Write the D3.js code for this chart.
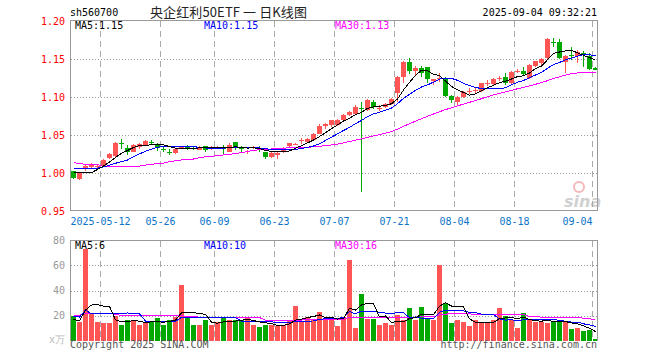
<!DOCTYPE html>
<html>
<head>
<meta charset="utf-8">
<script src="https://cdn.jsdelivr.net/npm/d3@7"></script>
<style>
  body { margin: 0; background: #fff; }
  svg text { font-family: "DejaVu Sans Mono", monospace; font-size: 10px; }
</style>
</head>
<body>
<div id="chart"></div>
<script>
// trading days, 2025-04-30 .. 2025-09-04
const dates = [
  "04-30","05-06","05-07","05-08","05-09","05-12","05-13","05-14","05-15","05-16",
  "05-19","05-20","05-21","05-22","05-23","05-26","05-27","05-28","05-29","05-30",
  "06-03","06-04","06-05","06-06","06-09","06-10","06-11","06-12","06-13","06-16",
  "06-17","06-18","06-19","06-20","06-23","06-24","06-25","06-26","06-27","06-30",
  "07-01","07-02","07-03","07-04","07-07","07-08","07-09","07-10","07-11","07-14",
  "07-15","07-16","07-17","07-18","07-21","07-22","07-23","07-24","07-25","07-28",
  "07-29","07-30","07-31","08-01","08-04","08-05","08-06","08-07","08-08","08-11",
  "08-12","08-13","08-14","08-15","08-18","08-19","08-20","08-21","08-22","08-25",
  "08-26","08-27","08-28","08-29","09-01","09-02","09-03","09-04"
];

const openP = [
  1.002,0.992,1.005,1.008,1.0085,1.0095,1.020,1.0224,1.039,1.0333,
  1.028,1.034,1.0365,1.041,1.037,1.031,1.028,1.0265,1.0318,1.034,
  1.033,1.0305,1.035,1.032,1.0333,1.033,1.028,1.0404,1.033,1.027,
  1.0335,1.0325,1.027,1.021,1.024,1.027,1.035,1.038,1.042,1.0412,
  1.0434,1.0518,1.0614,1.063,1.0632,1.0697,1.0763,1.0776,1.0855,1.0829,
  1.0938,1.0845,1.0864,1.0908,1.1049,1.1267,1.1457,1.1342,1.1377,1.139,
  1.1206,1.1245,1.1233,1.1013,1.0939,1.1004,1.1075,1.1088,1.1083,1.1185,
  1.1167,1.1242,1.1259,1.118,1.1338,1.1346,1.1246,1.1412,1.1443,1.1509,
  1.1725,1.1728,1.1457,1.1547,1.1544,1.158,1.1539,1.1386
];
const highP = [
  1.003,1.000,1.011,1.013,1.012,1.018,1.026,1.041,1.0447,1.037,
  1.038,1.039,1.0435,1.043,1.040,1.034,1.031,1.033,1.036,1.037,
  1.035,1.036,1.036,1.0357,1.036,1.0368,1.039,1.041,1.036,1.030,
  1.036,1.035,1.028,1.027,1.028,1.034,1.040,1.040,1.046,1.046,
  1.052,1.064,1.066,1.070,1.071,1.078,1.082,1.089,1.0938,1.098,
  1.096,1.089,1.092,1.099,1.128,1.148,1.1509,1.1408,1.1412,1.140,
  1.1241,1.1311,1.1268,1.102,1.101,1.108,1.1114,1.1136,1.119,1.122,
  1.125,1.128,1.131,1.134,1.137,1.139,1.143,1.148,1.151,1.1772,
  1.1772,1.1759,1.1555,1.1662,1.162,1.160,1.1583,1.139
];
const lowP = [
  0.992,0.9905,1.003,1.005,1.006,1.009,1.018,1.021,1.0316,1.024,
  1.027,1.032,1.035,1.038,1.029,1.028,1.024,1.025,1.031,1.030,
  1.030,1.030,1.028,1.0305,1.032,1.0237,1.027,1.030,1.028,1.025,
  1.032,1.027,1.018,1.020,1.0185,1.026,1.034,1.0365,1.038,1.040,
  1.042,1.051,1.058,1.061,1.062,1.068,1.075,1.076,0.9754,1.082,
  1.084,1.082,1.085,1.090,1.0938,1.1188,1.1303,1.1289,1.1268,1.118,
  1.1154,1.1202,1.1005,1.0917,1.0895,1.099,1.104,1.104,1.107,1.115,
  1.116,1.1207,1.1154,1.117,1.131,1.127,1.1237,1.140,1.1399,1.150,
  1.1662,1.150,1.1312,1.1487,1.145,1.140,1.136,1.135
];
const closeP = [
  0.994,0.9995,1.0096,1.011,1.009,1.017,1.025,1.040,1.038,1.028,
  1.0365,1.038,1.0425,1.040,1.0335,1.0305,1.0275,1.032,1.0348,1.033,
  1.032,1.0346,1.0307,1.0347,1.034,1.0325,1.0368,1.0333,1.0325,1.029,
  1.034,1.032,1.021,1.026,1.0268,1.0325,1.039,1.0386,1.043,1.045,
  1.051,1.0623,1.064,1.0697,1.0697,1.0763,1.0807,1.0872,1.0851,1.0961,
  1.0864,1.0851,1.0908,1.0974,1.1267,1.1465,1.1342,1.1377,1.1311,1.1233,
  1.1233,1.1254,1.1013,1.0961,1.1004,1.1066,1.1079,1.1092,1.118,1.1189,
  1.1237,1.1246,1.118,1.1333,1.1342,1.1298,1.1421,1.1474,1.15,1.1759,
  1.172,1.1509,1.1544,1.1544,1.1588,1.1555,1.1368,1.1355
];

const ma5 = [
  1.0004,1.0004,1.0004,1.0005,1.0046,1.0092,1.0143,1.0204,1.0258,1.0296,
  1.0335,1.0361,1.0366,1.037,1.0381,1.0369,1.0348,1.0327,1.0317,1.0316,
  1.0319,1.0333,1.033,1.033,1.0332,1.0333,1.0337,1.0343,1.0338,1.0328,
  1.0331,1.0322,1.0297,1.0284,1.028,1.0277,1.0291,1.0326,1.036,1.0396,
  1.0433,1.048,1.0531,1.0584,1.0633,1.0684,1.0721,1.0767,1.0798,1.0851,
  1.0871,1.088,1.0887,1.0912,1.0973,1.1093,1.1191,1.1285,1.1352,1.1346,
  1.1299,1.1282,1.1209,1.1139,1.1093,1.106,1.1025,1.104,1.1084,1.1121,
  1.1155,1.1189,1.1206,1.1237,1.1268,1.128,1.1315,1.1374,1.1407,1.149,
  1.1575,1.1592,1.1606,1.1615,1.1581,1.1548,1.152,1.1482
];
const ma10 = [
  1.0061,1.0061,1.0061,1.0062,1.0065,1.008,1.0103,1.0128,1.015,1.0171,
  1.0214,1.0252,1.0285,1.0314,1.0339,1.0352,1.0355,1.0347,1.0343,1.0348,
  1.0344,1.034,1.0329,1.0323,1.0324,1.0326,1.0335,1.0336,1.0334,1.033,
  1.0332,1.033,1.032,1.0311,1.0304,1.0304,1.0306,1.0311,1.0322,1.0338,
  1.0355,1.0385,1.0428,1.0472,1.0515,1.0559,1.06,1.0649,1.0691,1.0742,
  1.0778,1.08,1.0827,1.0855,1.0912,1.0982,1.1036,1.1086,1.1132,1.1159,
  1.1196,1.1236,1.1247,1.1246,1.1219,1.1179,1.1153,1.1125,1.1112,1.1107,
  1.1108,1.1107,1.1123,1.1161,1.1194,1.1218,1.1252,1.129,1.1322,1.1379,
  1.1427,1.1454,1.149,1.1511,1.1536,1.1561,1.1556,1.1544
];
const ma30 = [
  1.0136,1.0125,1.0114,1.0114,1.0114,1.0084,1.0084,1.0084,1.0084,1.0084,
  1.0084,1.009,1.0105,1.0115,1.0122,1.013,1.0149,1.016,1.0171,1.0178,
  1.0184,1.0203,1.0212,1.022,1.0228,1.0237,1.0246,1.0256,1.0268,1.0283,
  1.0297,1.0307,1.0311,1.0316,1.0322,1.0327,1.0332,1.0331,1.0333,1.0339,
  1.0344,1.0352,1.0359,1.0369,1.0381,1.0396,1.0414,1.0432,1.0449,1.047,
  1.0488,1.0505,1.0525,1.0546,1.0577,1.0615,1.0647,1.0682,1.0715,1.0746,
  1.0776,1.0807,1.0834,1.0857,1.0882,1.0907,1.093,1.0953,1.0978,1.1003,
  1.1027,1.1048,1.1066,1.1087,1.1109,1.1126,1.1147,1.1167,1.1189,1.1215,
  1.1244,1.1266,1.1287,1.1306,1.1316,1.1319,1.132,1.132
];

// volume, x万
const volume = [
  20,15,73,21,15,14,14,20,13,17,
  16,13,14,16,18,13,17,19,44.5,19,
  13,13,16.5,13,15,18,16.5,16.5,16.5,18.5,
  13,11,13,13,12,13,17,28,16,19,
  17,23,18,17,12,19,64,10.5,37.5,17.5,
  17.5,12.5,14,12.5,20.5,16.5,26,16.5,27,18,
  16.5,60,30,14,16.5,15,12,16.5,15,14,
  16.5,26,20,16.5,10,22,16.5,15,15,14,
  16,17,15,9.5,10,8,8.5,1.5
];
const vma5 = [
  17,16,24.5,28.5,28.8,27.6,27.4,16.8,15.2,15.6,
  16,15.8,14.6,15.2,15.4,14.8,15.6,16.6,22.3,22.5,
  22.5,21.7,21.2,14.9,14.1,15.1,15.8,15.8,16.5,17.2,
  16.2,15.1,14.4,13.7,12.4,12.4,13.6,16.6,17.2,18.6,
  19.4,20.6,18.6,18.8,17.4,17.8,26,24.5,28.6,29.7,
  29.4,19.1,19.8,14.8,15.4,15.2,17.9,18.4,21.3,20.8,
  20.8,27.6,30.3,27.7,27.4,27.1,17.5,14.8,15,14.5,
  14.8,17.6,18.3,18.6,17.8,18.9,17,16,15.7,16.5,
  15.3,15.4,15.4,14.3,13.5,11.9,10.2,7.5
];
const vma10 = [
  19.5,19,24.5,21.5,21.5,21.5,21.5,21.5,21.5,22.2,
  21.8,21.6,15.7,15.2,15.5,15.4,15.7,15.6,18.75,18.95,
  18.65,18.65,18.9,18.6,18.3,18.8,18.75,18.5,15.7,15.65,
  15.65,15.45,15.1,15.1,14.8,14.3,14.35,15.5,15.45,15.5,
  15.9,17.1,17.6,18,18,18.6,23.3,21.55,23.7,23.55,
  23.6,22.55,22.15,21.7,22.55,22.3,18.5,19.1,18.05,18.1,
  18,22.75,24.35,24.5,24.1,23.95,22.55,22.55,21.35,20.95,
  20.95,17.55,16.55,16.8,16.15,16.85,17.3,17.15,17.15,17.15,
  17.1,16.2,15.7,15,15,13.6,12.8,11.45
];
const vma30 = [
  20.3,20.3,22,21.8,21.8,21.8,21.8,21,20.3,20,
  20,20,20,20,20,20,20,20,20,19.4,
  19.4,18.9,18.9,18.9,18.9,18.9,18.9,18.9,18.9,18.93,
  18.7,18.57,16.57,16.3,16.2,16.17,16.27,16.53,16.63,16.7,
  16.73,17.07,17.2,17.23,17.03,17.23,18.8,18.52,18.28,18.23,
  18.38,18.37,18.28,18.27,18.45,18.4,18.72,18.72,19.07,19.05,
  19.17,20.8,21.37,21.4,21.55,21.62,21.45,21.07,21.03,20.87,
  20.85,20.95,21.02,21,20.93,21.03,19.45,19.6,18.85,18.73,
  18.68,18.83,18.87,18.77,18.42,18.13,17.55,17.05
];

const tickIdx    = [5, 15, 24, 34, 44, 54, 64, 74, 87];
const tickLabels = ["2025-05-12","05-26","06-09","06-23","07-07","07-21","08-04","08-18","09-04"];
const priceTicks = [0.95, 1.00, 1.05, 1.10, 1.15, 1.20];
const volTicks   = [20, 40, 60, 80];

const UP = "#ff5555", DOWN = "#00a800";
const GRID = "#aaaaaa";

const width = 660, height = 360;

const svg = d3.select("#chart")
  .append("svg")
  .attr("width", width)
  .attr("height", height)
  .style("display", "block");

// x(i) = left edge of slot i
const x = d3.scaleLinear().domain([0, dates.length]).range([70, 598]);
const cx = i => x(i) + 3.5;

const y  = d3.scaleLinear().domain([0.95, 1.20]).range([211, 21]);
const yv = d3.scaleLinear().domain([0, 80]).range([341, 240]);

// ---- header
svg.append("text").attr("x", 70).attr("y", 16).attr("fill", "#000").text("sh560700");
svg.append("text")
  .attr("x", 150).attr("y", 17)
  .attr("fill", "#222")
  .attr("textLength", 157)
  .attr("lengthAdjust", "spacing")
  .style("font-family", "'Noto Sans CJK SC', sans-serif")
  .style("font-size", "13px")
  .text("央企红利50ETF 一 日K线图");
svg.append("text").attr("x", 597).attr("y", 16).attr("text-anchor", "end")
  .attr("fill", "#000").text("2025-09-04 09:32:21");

// ---- grids
function drawGrid(top, bottom, hLines) {
  const g = svg.append("g").attr("shape-rendering", "crispEdges");
  g.selectAll("line.h")
    .data(hLines)
    .enter().append("line")
    .attr("x1", 71).attr("x2", 597)
    .attr("y1", d => Math.round(d) + 0.5).attr("y2", d => Math.round(d) + 0.5)
    .attr("stroke", "#999").attr("stroke-dasharray", "1,2");
  g.selectAll("line.v")
    .data(tickIdx)
    .enter().append("line")
    .attr("x1", d => x(d) + 0.5).attr("x2", d => x(d) + 0.5)
    .attr("y1", top).attr("y2", bottom)
    .attr("stroke", GRID).attr("stroke-dasharray", "6,4");
}
drawGrid(21, 210, [1.15, 1.10, 1.05, 1.00].map(y));
drawGrid(241, 341, [20, 40, 60].map(yv));

// ---- candles
const candles = svg.append("g").attr("shape-rendering", "crispEdges");
const idx = d3.range(dates.length);
const colorOf = i => closeP[i] >= openP[i] ? UP : DOWN;

candles.selectAll("line")
  .data(idx)
  .enter().append("line")
  .attr("x1", i => cx(i)).attr("x2", i => cx(i))
  .attr("y1", i => Math.round(y(highP[i])))
  .attr("y2", i => Math.round(y(lowP[i])))
  .attr("stroke", colorOf);

candles.selectAll("rect")
  .data(idx)
  .enter().append("rect")
  .attr("x", i => x(i) + 1)
  .attr("width", 5)
  .attr("y", i => Math.round(y(Math.max(openP[i], closeP[i]))))
  .attr("height", i => Math.max(1, Math.round(y(Math.min(openP[i], closeP[i]))) - Math.round(y(Math.max(openP[i], closeP[i])))))
  .attr("fill", colorOf);

// ---- moving averages
function drawLine(values, yScale, color) {
  svg.append("path")
    .datum(values)
    .attr("fill", "none")
    .attr("stroke", color)
    .attr("stroke-width", 1)
    .attr("shape-rendering", "crispEdges")
    .attr("d", d3.line().x((d, i) => cx(i)).y(d => yScale(d)));
}
drawLine(ma30, y, "#ff00ff");
drawLine(ma10, y, "#0000ff");
drawLine(ma5,  y, "#000000");

// ---- volume bars
svg.append("g").attr("shape-rendering", "crispEdges")
  .selectAll("rect")
  .data(idx)
  .enter().append("rect")
  .attr("x", i => x(i) + 1)
  .attr("width", 5)
  .attr("y", i => Math.round(yv(volume[i])))
  .attr("height", i => 341 - Math.round(yv(volume[i])))
  .attr("fill", colorOf);

drawLine(vma30, yv, "#ff00ff");
drawLine(vma10, yv, "#0000ff");
drawLine(vma5,  yv, "#000000");

// ---- frames
const frame = svg.append("g").attr("shape-rendering", "crispEdges")
  .attr("fill", "none").attr("stroke", "#999");
frame.append("rect").attr("x", 70.5).attr("y", 20.5).attr("width", 527).attr("height", 190);
frame.append("path").attr("d", "M70.5,341V240.5H597.5V341");

// ---- axes
const priceAxis = svg.append("g")
  .attr("transform", "translate(70,0)")
  .call(d3.axisLeft(y).tickValues(priceTicks).tickSize(0).tickPadding(5).tickFormat(d3.format(".2f")));
priceAxis.select(".domain").remove();
priceAxis.selectAll("text").attr("fill", "#ff0000").style("font-family", "'DejaVu Sans Mono', monospace").style("font-size", "10px");

const volAxis = svg.append("g")
  .attr("transform", "translate(70,0)")
  .call(d3.axisLeft(yv).tickValues(volTicks).tickSize(0).tickPadding(5));
volAxis.select(".domain").remove();
volAxis.selectAll("text").attr("fill", "#999").style("font-family", "'DejaVu Sans Mono', monospace").style("font-size", "10px");

const dateAxis = svg.append("g")
  .attr("transform", "translate(0,211)")
  .call(d3.axisBottom(x).tickValues(tickIdx).tickSize(0).tickPadding(7)
    .tickFormat((d, i) => tickLabels[i]));
dateAxis.select(".domain").remove();
dateAxis.selectAll("text").attr("fill", "#0b74c8").style("font-family", "'DejaVu Sans Mono', monospace").style("font-size", "10px");
dateAxis.selectAll(".tick:last-of-type text").attr("text-anchor", "end");

// ---- legends
const legends = [
  { x: 75,  y: 29,  color: "#000", text: "MA5:1.15" },
  { x: 204, y: 29,  color: "#00f", text: "MA10:1.15" },
  { x: 335, y: 29,  color: "#f0f", text: "MA30:1.13" },
  { x: 75,  y: 249, color: "#000", text: "MA5:6" },
  { x: 204, y: 249, color: "#00f", text: "MA10:10" },
  { x: 335, y: 249, color: "#f0f", text: "MA30:16" }
];
svg.selectAll("text.legend")
  .data(legends)
  .enter().append("text")
  .attr("class", "legend")
  .attr("x", d => d.x).attr("y", d => d.y)
  .attr("fill", d => d.color)
  .text(d => d.text);

// ---- footer
svg.append("text").attr("x", 49).attr("y", 343).attr("fill", "#bbb").text("x万");
svg.append("text").attr("x", 70).attr("y", 348).attr("fill", "#555").text("Copyright 2025 SINA.COM");
svg.append("text").attr("x", 597).attr("y", 348).attr("text-anchor", "end").attr("fill", "#555")
  .text("http://finance.sina.com.cn");

// ---- sina watermark
const logo = svg.append("g").attr("opacity", 0.55);
logo.append("circle").attr("cx", 579).attr("cy", 187).attr("r", 5)
  .attr("fill", "none").attr("stroke", "#f08080").attr("stroke-width", 2);
logo.append("text").attr("x", 564).attr("y", 207)
  .attr("fill", "#aaa")
  .style("font-family", "'DejaVu Sans', sans-serif")
  .style("font-size", "16px").style("font-weight", "bold").style("font-style", "italic")
  .text("sina");
</script>
</body>
</html>
